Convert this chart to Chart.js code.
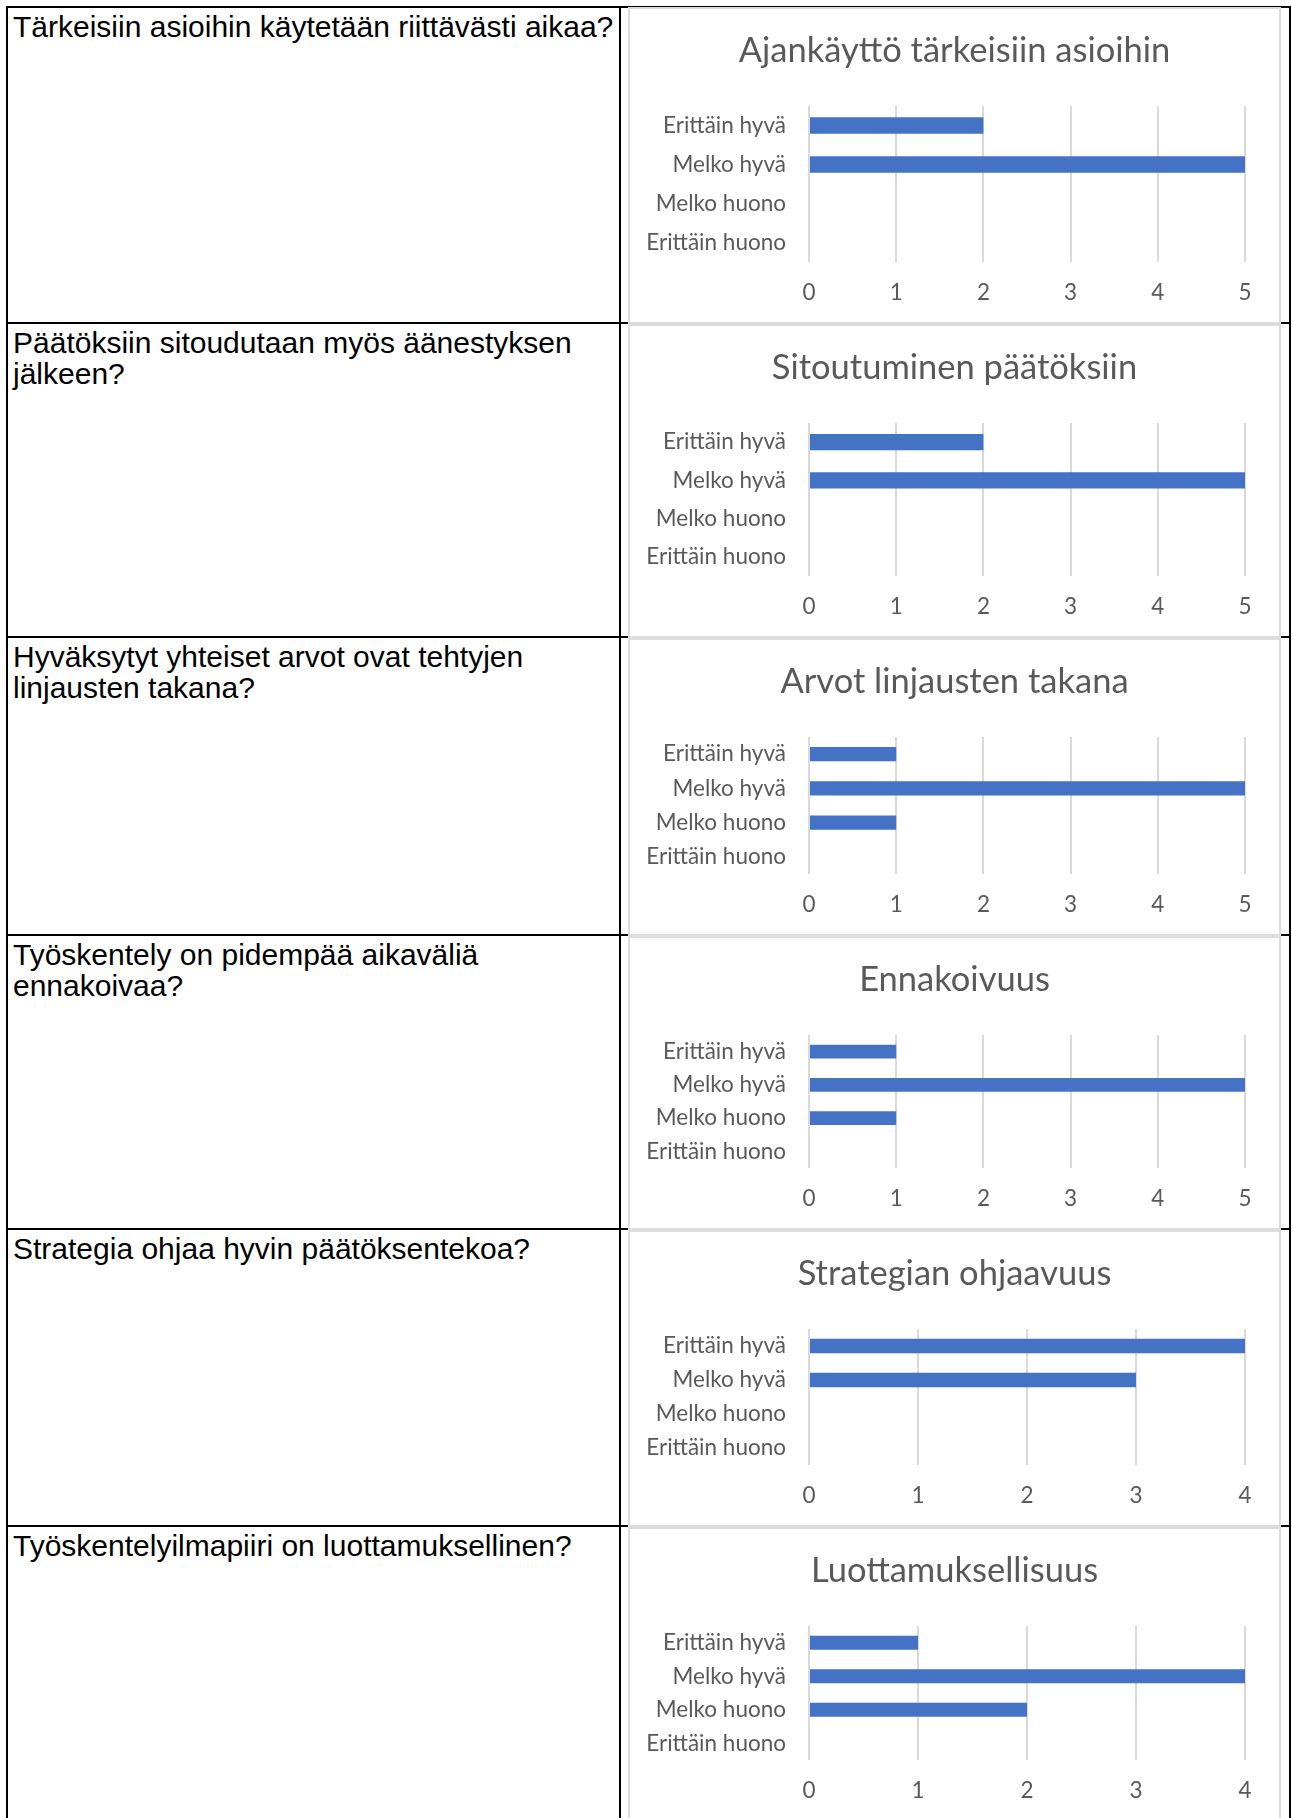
<!DOCTYPE html>
<html><head><meta charset="utf-8">
<script src="https://cdn.jsdelivr.net/npm/chart.js@4"></script>
<style>
html,body{margin:0;padding:0;background:#fff;}
body{width:1292px;height:1818px;overflow:hidden;position:relative;}
.ln{position:absolute;background:#000;z-index:1;}
.q{position:absolute;left:13px;width:600px;font-family:"Liberation Sans",Arial,sans-serif;font-size:30px;line-height:31px;color:#000;white-space:nowrap;z-index:2;}
.panel{position:absolute;left:628px;width:653px;box-sizing:border-box;border:2px solid #dcdcdc;background:#fff;z-index:3;}
.panel canvas{display:block;}
</style></head><body>
<script>
// ---- data ----
const categories = ['Erittäin hyvä', 'Melko hyvä', 'Melko huono', 'Erittäin huono'];
const chartTitles = ['Ajankäyttö tärkeisiin asioihin', 'Sitoutuminen päätöksiin', 'Arvot linjausten takana', 'Ennakoivuus', 'Strategian ohjaavuus', 'Luottamuksellisuus'];
const questions = [
  ['Tärkeisiin asioihin käytetään riittävästi aikaa?'],
  ['Päätöksiin sitoudutaan myös äänestyksen', 'jälkeen?'],
  ['Hyväksytyt yhteiset arvot ovat tehtyjen', 'linjausten takana?'],
  ['Työskentely on pidempää aikaväliä', 'ennakoivaa?'],
  ['Strategia ohjaa hyvin päätöksentekoa?'],
  ['Työskentelyilmapiiri on luottamuksellinen?']
];
const ajankaytto = [2, 5, 0, 0];
const sitoutuminen = [2, 5, 0, 0];
const arvot = [1, 5, 1, 0];
const ennakoivuus = [1, 5, 1, 0];
const strategia = [4, 3, 0, 0];
const luottamus = [1, 4, 2, 0];
const seriesValues = [ajankaytto, sitoutuminen, arvot, ennakoivuus, strategia, luottamus];
const axisMax = [5, 5, 5, 5, 4, 4];

// ---- layout ----
const rowLines = [7, 323, 637, 935, 1229, 1526];
const panelBoxes = [[7, 324], [324, 638], [638, 936], [936, 1230], [1230, 1527], [1527, 1822]];

function addLine(x, y, w, h) {
  const d = document.createElement('div');
  d.className = 'ln';
  Object.assign(d.style, {left: x + 'px', top: y + 'px', width: w + 'px', height: h + 'px'});
  document.body.appendChild(d);
}
[6, 619, 1289].forEach(x => addLine(x, 6, 2, 1820));
rowLines.forEach(y => addLine(6, y - 1, 1285, 2));

questions.forEach((lines, i) => {
  const d = document.createElement('div');
  d.className = 'q';
  d.style.top = (rowLines[i] + 4) + 'px';
  d.innerHTML = lines.join('<br>');
  document.body.appendChild(d);
});

const txt = '#595959';
const fam = 'Lato, "Open Sans", sans-serif';

panelBoxes.forEach((box, i) => {
  const p = document.createElement('div');
  p.className = 'panel';
  p.style.top = box[0] + 'px';
  p.style.height = (box[1] - box[0]) + 'px';
  const c = document.createElement('canvas');
  const cw = 649, ch = box[1] - box[0] - 4;
  c.width = cw; c.height = ch;
  c.style.width = cw + 'px'; c.style.height = ch + 'px';
  p.appendChild(c);
  document.body.appendChild(p);

  new Chart(c, {
    type: 'bar',
    data: {
      labels: categories,
      datasets: [{
        data: seriesValues[i],
        backgroundColor: '#4472C4',
        borderWidth: 0,
        barPercentage: 0.42,
        categoryPercentage: 1
      }]
    },
    options: {
      indexAxis: 'y',
      responsive: false,
      animation: false,
      devicePixelRatio: 1,
      layout: {padding: {left: 0, right: 0, top: 0, bottom: 0}},
      plugins: {
        legend: {display: false},
        tooltip: {enabled: false},
        title: {
          display: true,
          text: chartTitles[i],
          color: txt,
          font: {family: fam, size: 34.5, weight: 'normal', lineHeight: 1.2},
          padding: {top: 21.5, bottom: 34.1}
        }
      },
      scales: {
        x: {
          min: 0,
          max: axisMax[i],
          ticks: {stepSize: 1, color: txt, font: {family: fam, size: 22.5}, padding: 17},
          grid: {color: '#d9d9d9', lineWidth: 2, drawTicks: false},
          border: {display: false},
          afterFit(s) { s.height = 60; }
        },
        y: {
          ticks: {color: txt, font: {family: fam, size: 22.5}, padding: 23},
          grid: {display: false, drawTicks: false},
          border: {display: false},
          afterFit(s) { s.width = 179; }
        },
        yRight: {
          type: 'category',
          position: 'right',
          ticks: {display: false},
          grid: {display: false, drawTicks: false},
          border: {display: false},
          afterFit(s) { s.width = 34; }
        }
      }
    }
  });
});
</script>
</body></html>
